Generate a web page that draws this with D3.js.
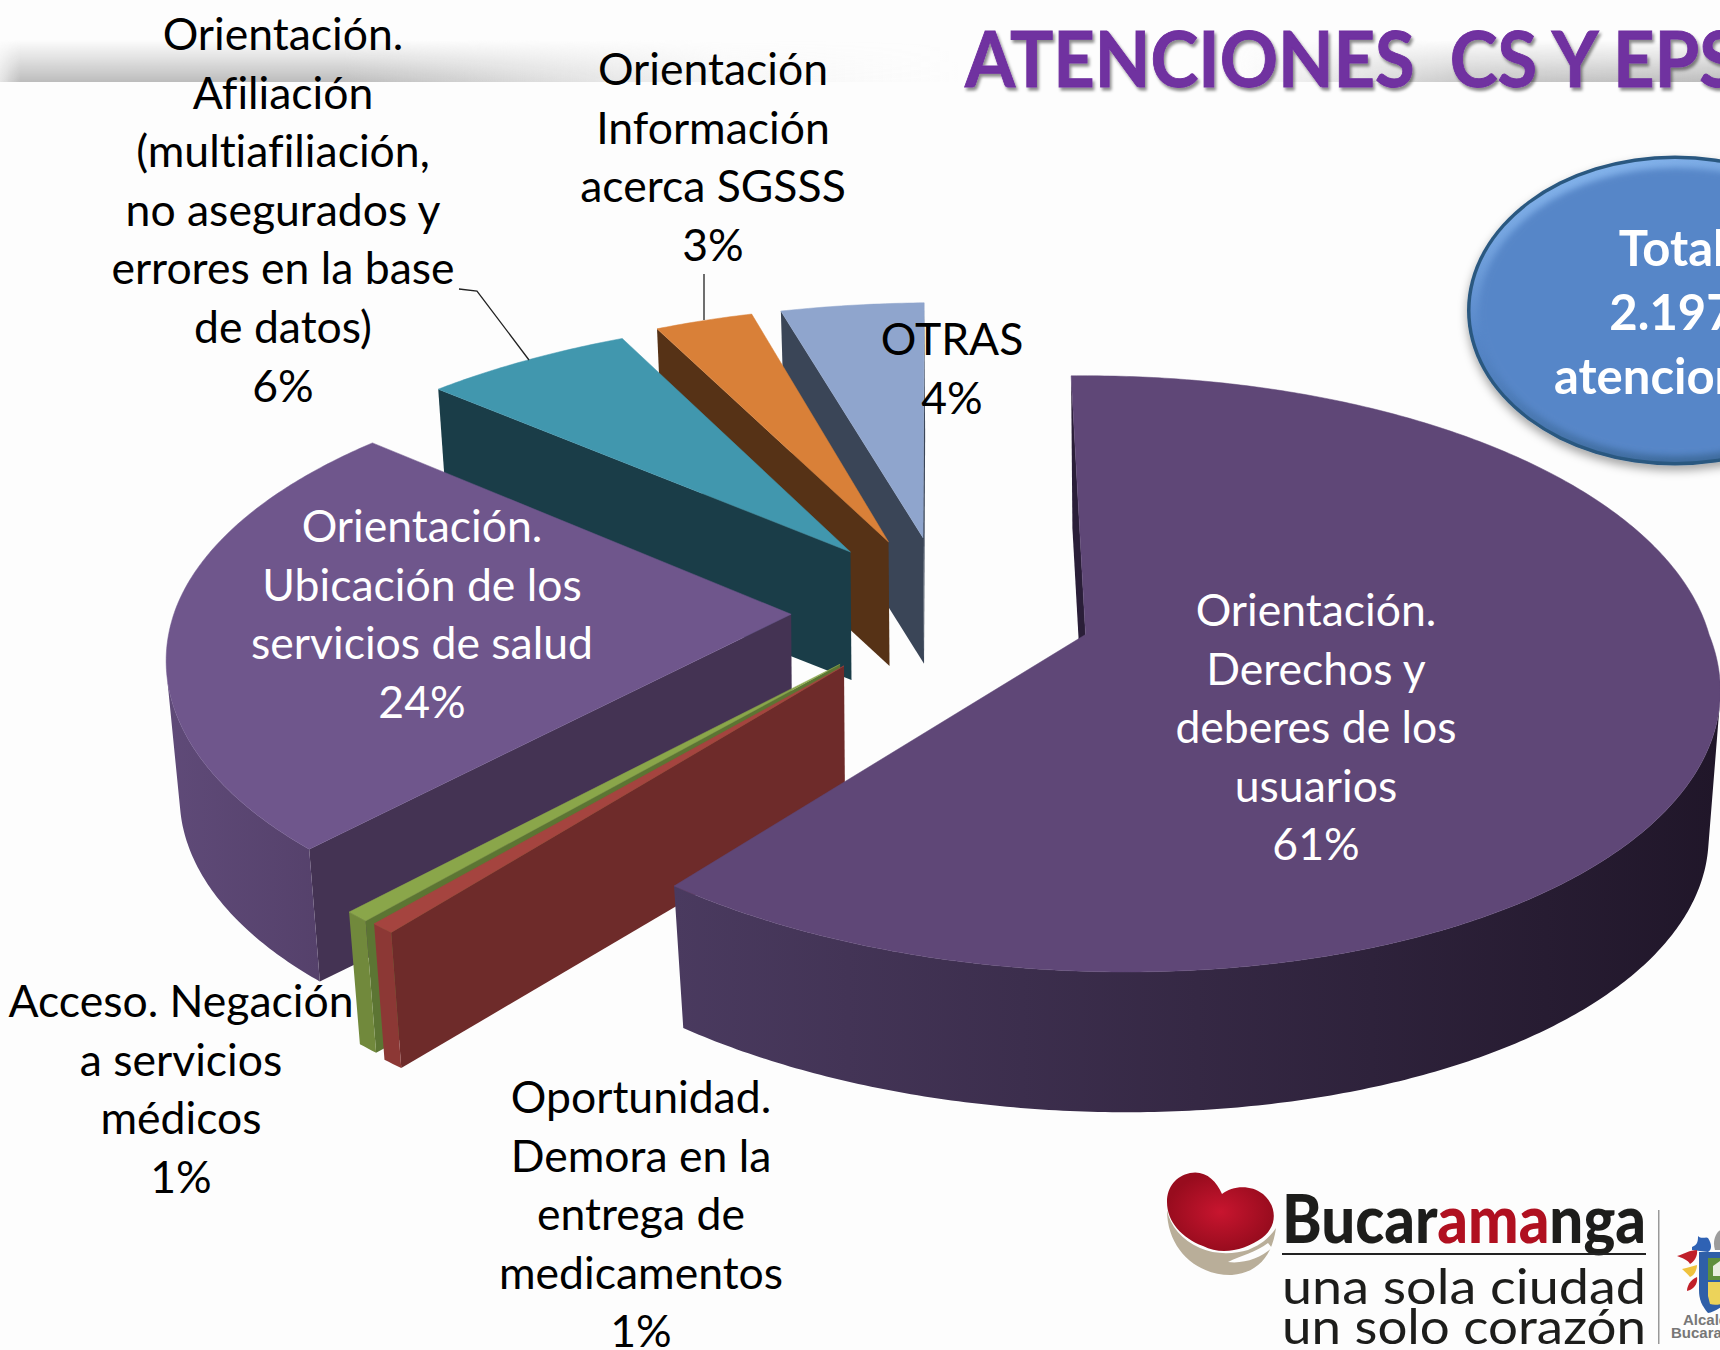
<!DOCTYPE html>
<html lang="es"><head><meta charset="utf-8">
<script src="https://cdn.jsdelivr.net/npm/d3@7/dist/d3.min.js"></script>
<style>html,body{margin:0;padding:0;background:#fdfdfd;overflow:hidden}svg{display:block}text{font-family:Lato,"Open Sans",sans-serif;font-variant-ligatures:none}</style>
</head><body><svg id="c" width="1720" height="1350"></svg>
<script>
// ---- data ----
const categories = [
  ["Orientación.","Derechos y","deberes de los","usuarios"],
  ["Oportunidad.","Demora en la","entrega de","medicamentos"],
  ["Acceso. Negación","a servicios","médicos"],
  ["Orientación.","Ubicación de los","servicios de salud"],
  ["Orientación.","Afiliación","(multiafiliación,","no asegurados y","errores en la base","de datos)"],
  ["Orientación","Información","acerca SGSSS"],
  ["OTRAS"]
];
// shares; the labels show them rounded
const values = [61.4,0.55,0.55,24.4,6.0,3.0,4.1];
const topColors  = ["#5f4777","#a5443f","#8aa64a","#6f568c","#4197ae","#d98038","#8fa5cd"];
const faceColors = ["#2a1e38","#6e2b2a","#5c7533","#443353","#1a3d48","#563216","#3a4557"];
const wallLeft   = ["#4a3a5f","#8c3835","#71893c","#5f4a78","#2a6a7d","#9c5a22","#5d6e8f"];
const wallRight  = ["#201629","#8c3835","#71893c","#55416b","#2a6a7d","#9c5a22","#5d6e8f"];
const labelColors= ["#fff","#000","#000","#fff","#000","#000","#000"];
const labelCenters = [[1316,611],[641,1098],[181,1002],[422,527],[283,35],[713,70],[952,340]];
const title = "ATENCIONES  CS Y EPS";
const totalLines = ["Total","2.197","atenciones"];

// ---- geometry of the tilted pie (each exploded slice sits at its own depth) ----
const C=[942.4,611], R=614.3, Rk=292.9, P=0.132, EXPLODE=151.4, SHR=0.98, LINE=58.6;
const START=-1.5*Math.PI/180;
//            sx,   syF,  syB,  skF,   skB,   depth, dx, dy
const shape=[[1.015,1,    1,    .121,  0,     147,   0,  0],
             [1.04, 1.06, 1,    0,     0,     141,   0,  0],
             [1.05, 1.055,1,    0,     0,     137,   0,  0],
             [1.005,1,    .963,-.051, -.043,  137,   0,  0],
             [1.02, 1,    .915, 0,    -.115,  128,   1, -2],
             [.965, 1,    .913, 0,    -.042,  124,   2, -2],
             [1.031,1,    .908, 0,    -.061,  126,   4, -2]];
const svg=d3.select("#c");
const defs=svg.append("defs");

// background band
const bandV=defs.append("linearGradient").attr("id","bandV").attr("x1",0).attr("x2",0).attr("y1",0).attr("y2",1);
bandV.append("stop").attr("offset",0).attr("stop-color","#000");
bandV.append("stop").attr("offset",.35).attr("stop-color","#555");
bandV.append("stop").attr("offset",1).attr("stop-color","#fff");
const bandH=defs.append("linearGradient").attr("id","bandH");
[[0,.35],[.012,1],[.2,1],[.3,.55],[.42,.1],[.56,0],[.72,0],[.85,.8],[1,1]].forEach(d=>bandH.append("stop").attr("offset",d[0]).attr("stop-color","#bcbcbc").attr("stop-opacity",d[1]));
defs.append("mask").attr("id","bandM").attr("maskUnits","userSpaceOnUse").attr("x",0).attr("y",40).attr("width",1720).attr("height",42)
  .append("rect").attr("x",0).attr("y",40).attr("width",1720).attr("height",42).attr("fill","url(#bandV)");
svg.append("rect").attr("width",1720).attr("height",1350).attr("fill","#fdfdfd");
svg.append("rect").attr("x",0).attr("y",40).attr("width",1720).attr("height",42).attr("fill","url(#bandH)").attr("mask","url(#bandM)");

// title
const ts=defs.append("filter").attr("id","ts").attr("x","-5%").attr("y","-20%").attr("width","110%").attr("height","140%");
ts.append("feDropShadow").attr("dx",2).attr("dy",3).attr("stdDeviation",1.6).attr("flood-color","#000").attr("flood-opacity",.45);
svg.append("text").attr("transform","translate(965,87) scale(.95,1)").style("white-space","pre")
  .attr("font-size",76).attr("font-weight",700).attr("fill","#7030a0").attr("stroke","#7030a0").attr("stroke-width",.9).attr("filter","url(#ts)").text(title);

// total bubble
const bs=defs.append("filter").attr("id","bs").attr("x","-20%").attr("y","-20%").attr("width","140%").attr("height","140%");
bs.append("feDropShadow").attr("dx",0).attr("dy",5).attr("stdDeviation",5).attr("flood-color","#000").attr("flood-opacity",.35);
defs.append("filter").attr("id","bl").append("feGaussianBlur").attr("stdDeviation",3);
const bl=defs.append("linearGradient").attr("id","rim").attr("x1",.1).attr("y1",0).attr("x2",.45).attr("y2",1);
bl.append("stop").attr("offset",0).attr("stop-color","#8dbcf2");
bl.append("stop").attr("offset",.5).attr("stop-color","#5686c8");
bl.append("stop").attr("offset",1).attr("stop-color","#3f6c9e");
const bub=svg.append("g");
bub.append("ellipse").attr("cx",1675).attr("cy",310.5).attr("rx",208).attr("ry",155).attr("fill","#2b5880").attr("filter","url(#bs)");
bub.append("ellipse").attr("cx",1675).attr("cy",310.5).attr("rx",204.5).attr("ry",151.5).attr("fill","url(#rim)");
bub.append("ellipse").attr("cx",1676).attr("cy",312).attr("rx",197).attr("ry",144).attr("fill","#5686c8").attr("filter","url(#bl)");
totalLines.forEach((t,i)=>bub.append("text").attr("x",1672).attr("y",266+i*64).attr("text-anchor","middle")
  .attr("font-size",49).attr("font-weight",700).attr("fill","#fff").text(t));

// pie
const pie=d3.pie().sort(null).startAngle(START).endAngle(START+2*Math.PI)(values);
const area=pts=>{let s=0;pts.forEach((p,i)=>{const q=pts[(i+1)%pts.length];s+=p[0]*q[1]-q[0]*p[1];});return s;};
const line=d3.line();
const gPie=svg.append("g");
// back slices first, the largest (front) slice last
[6,5,4,3,2,1,0].forEach(i=>{
  const d=pie[i], mid=(d.startAngle+d.endAngle)/2, sh=shape[i], depth=sh[5];
  const rim=a=>{
    const x=Math.sin(a),y=-Math.cos(a),w=1/(1-P*y),bx=R*x*w,by=Rk*y*w,f=y>0;
    return [sh[0]*bx+(f?sh[3]:sh[4])*by, by*(f?sh[1]:sh[2])];
  };
  const apex=[C[0]+EXPLODE*Math.sin(mid)+sh[6],C[1]-EXPLODE*Math.cos(mid)*Rk/R+sh[7]];
  const T=a=>{const r=rim(a);return [apex[0]+r[0],apex[1]+r[1]];};
  const B=a=>{const r=rim(a);return [apex[0]+SHR*r[0]+1,apex[1]+SHR*r[1]+depth];};
  const apexB=[apex[0]+1,apex[1]+depth];
  const g=gPie.append("g").attr("class","slice");
  const draw=(pts,fill)=>{ if(area(pts)<0) g.append("path").attr("d",line(pts)+"Z").attr("fill",fill); };
  // cut faces
  draw([apex,T(d.startAngle),B(d.startAngle),apexB],faceColors[i]);
  draw([T(d.endAngle),apex,apexB,B(d.endAngle)],faceColors[i]);
  // rim wall: only the stretch turned to the viewer
  const n=Math.max(2,Math.ceil((d.endAngle-d.startAngle)/0.01));
  const aScale=d3.scaleLinear().domain([0,n]).range([d.startAngle,d.endAngle]);
  const ks=d3.range(0,n+1);
  const vis=ks.filter(k=>k<n && area([T(aScale(k)),T(aScale(k+1)),B(aScale(k+1)),B(aScale(k))])<0);
  if(vis.length){
    const kv=d3.range(d3.min(vis),d3.max(vis)+2);
    const poly=[...kv.map(k=>T(aScale(k))),...kv.slice().reverse().map(k=>B(aScale(k)))];
    const [x0,x1]=d3.extent(poly,p=>p[0]);
    const gr=defs.append("linearGradient").attr("id","wall"+i).attr("gradientUnits","userSpaceOnUse").attr("x1",x0).attr("x2",x1).attr("y1",0).attr("y2",0);
    gr.append("stop").attr("offset",0).attr("stop-color",wallLeft[i]);
    gr.append("stop").attr("offset",1).attr("stop-color",wallRight[i]);
    g.append("path").attr("d",line(poly)+"Z").attr("fill","url(#wall"+i+")");
  }
  // top
  const arcPts=ks.map(k=>T(aScale(k)));
  g.append("path").attr("d",line([apex,...arcPts])+"Z").attr("fill",topColors[i]).attr("stroke",topColors[i]).attr("stroke-width",.5);
});

// leader lines
const leaders=[[[459,289],[477,291],[529,360]],[[704,274],[704,320]]];
leaders.forEach(p=>svg.append("path").attr("d",line(p)).attr("fill","none").attr("stroke","#222").attr("stroke-width",1.3));

// labels
const pct=d3.format(".0f");
categories.forEach((lines,i)=>{
  const all=[...lines,pct(values[i])+"%"];
  const t=svg.append("text").attr("text-anchor","middle").attr("font-size",44.5).attr("fill",labelColors[i]);
  all.forEach((s,j)=>t.append("tspan").attr("x",labelCenters[i][0]).attr("y",labelCenters[i][1]+15+j*LINE).text(s));
});

// logo
const lg=svg.append("g");
const hg=defs.append("radialGradient").attr("id","heart");
hg.append("stop").attr("offset",0).attr("stop-color","#c8152f");
hg.append("stop").attr("offset",1).attr("stop-color","#980c1e");
lg.append("path").attr("d","M1167 1210C1167 1250 1198 1276 1232 1275C1256 1273 1272 1258 1276 1228C1268 1240 1258 1246 1248 1250C1235 1254 1215 1255 1200 1248C1182 1240 1170 1226 1167 1210Z").attr("fill","#b9ae99");
lg.append("path").attr("d","M1190 1173C1205 1170 1216 1180 1222 1194C1232 1186 1250 1184 1263 1194C1279 1208 1276 1228 1262 1238C1245 1250 1222 1256 1203 1246C1182 1238 1167 1222 1167 1202C1167 1187 1176 1176 1190 1173Z").attr("fill","url(#heart)");
lg.append("path").attr("d","M1228 1262C1240 1256 1256 1252 1268 1243L1272 1248C1260 1258 1244 1264 1228 1262Z").attr("fill","#fdfdfd");
const bt=lg.append("text").attr("x",1282).attr("y",1243).attr("font-size",66).attr("font-weight",900).attr("textLength",364).attr("lengthAdjust","spacingAndGlyphs").attr("fill","#1d1d1b");
bt.append("tspan").text("Bucar");
bt.append("tspan").attr("fill","#b01020").text("ama");
bt.append("tspan").text("nga");
lg.append("rect").attr("x",1282).attr("y",1253).attr("width",364).attr("height",2).attr("fill","#222");
lg.append("text").attr("x",1282).attr("y",1304).attr("font-size",48).attr("textLength",364).attr("lengthAdjust","spacingAndGlyphs").attr("fill","#1d1d1b").text("una sola ciudad");
lg.append("text").attr("x",1282).attr("y",1344).attr("font-size",48).attr("textLength",364).attr("lengthAdjust","spacingAndGlyphs").attr("fill","#1d1d1b").text("un solo corazón");
lg.append("rect").attr("x",1658).attr("y",1210).attr("width",1.5).attr("height",134).attr("fill","#999");
// coat of arms
lg.append("path").attr("d","M1699 1252H1730V1296C1726 1306 1714 1312 1708 1313C1702 1306 1699 1300 1699 1290Z").attr("fill","#2f5fa8");
lg.append("path").attr("d","M1708 1258H1730V1280H1708Z").attr("fill","#5f8f3c");
lg.append("path").attr("d","M1713 1266L1720 1261L1727 1267V1276H1713Z").attr("fill","#e9eee0");
lg.append("path").attr("d","M1708 1282H1730V1300C1724 1304 1716 1306 1710 1304L1708 1296Z").attr("fill","#ecd35a");
lg.append("path").attr("d","M1692 1247C1698 1245 1698 1240 1698 1236C1702 1240 1706 1236 1708 1238C1712 1244 1712 1250 1708 1252L1692 1250Z").attr("fill","#2f62b4");
lg.append("path").attr("d","M1715 1250C1712 1240 1716 1232 1722 1229V1250Z").attr("fill","#9c9c9c");
lg.append("path").attr("d","M1677 1256C1684 1254 1690 1250 1697 1250C1698 1256 1694 1262 1690 1264C1688 1260 1682 1258 1677 1256Z").attr("fill","#c0202a");
lg.append("path").attr("d","M1682 1269C1688 1268 1692 1266 1697 1265C1697 1270 1694 1276 1690 1277C1688 1274 1685 1272 1682 1269Z").attr("fill","#efc23e");
lg.append("path").attr("d","M1687 1291C1687 1286 1690 1280 1697 1277C1698 1282 1695 1288 1690 1290Z").attr("fill","#c0202a");
lg.append("text").attr("x",1683).attr("y",1325).attr("font-size",15).attr("font-weight",700).attr("fill","#777").style("font-family","Liberation Sans").text("Alcaldía de");
lg.append("text").attr("x",1671).attr("y",1338).attr("font-size",15).attr("font-weight",700).attr("fill","#777").style("font-family","Liberation Sans").text("Bucaramanga");
</script></body></html>
